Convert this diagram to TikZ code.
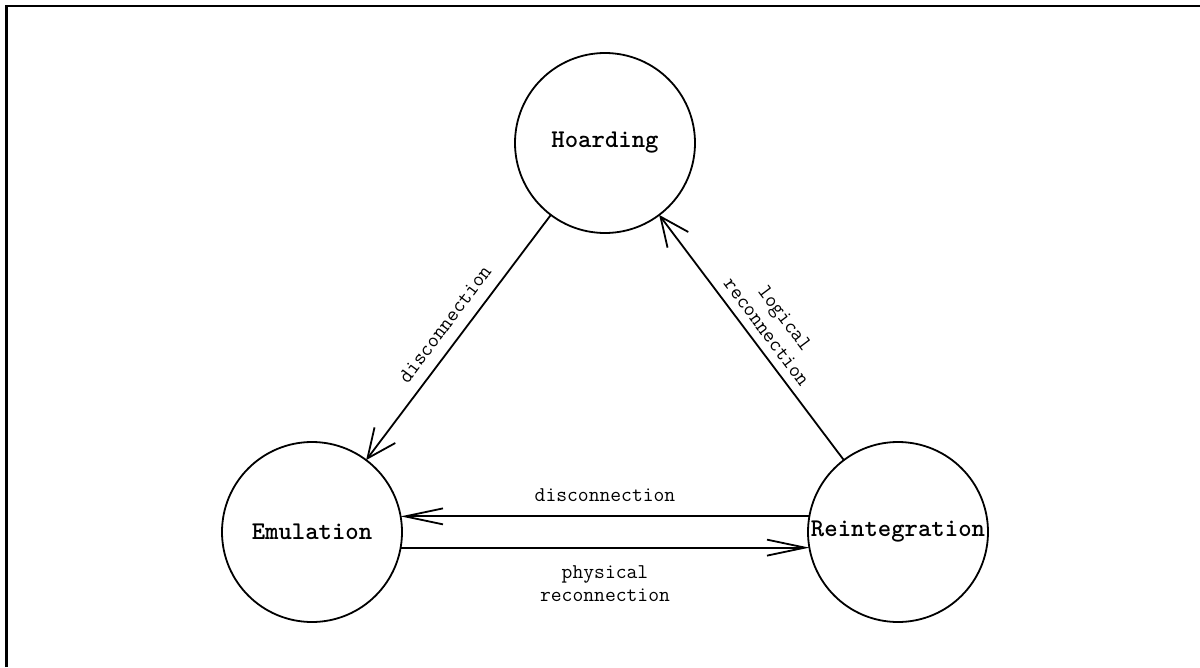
\documentclass[tikz,border=0pt]{standalone}
\usepackage{fontspec}
\usetikzlibrary{arrows.meta}
\begin{document}
\begin{tikzpicture}[x=1pt,y=-1pt,
  state/.style={circle,draw,line width=1.8pt,minimum size=180pt,inner sep=0pt,outer sep=0pt},
  statename/.style={font=\fontsize{25.5}{29}\selectfont\ttfamily\bfseries},
  lbl/.style={font=\fontsize{21}{23}\selectfont\ttfamily,align=center,inner sep=0pt},
  diag/.style={line width=1.8pt,-{Straight Barb[length=29pt,width=26pt]}},
  flat/.style={line width=1.8pt,-{Straight Barb[length=38pt,width=16pt]}},
]
\useasboundingbox (0,0) rectangle (1200,667);
% frame (top and left edges)
\draw[line width=2.5pt] (6.5,667) -- (6.5,6) -- (1200,6);

% states
\node[state, label={[statename]center:Hoarding}] (H) at (605,143) {};
\node[state, label={[statename]center:Emulation}] (E) at (312,532) {};
\node[state, label={[statename]center:Reintegration}] (R) at (898,532) {};

% transitions
\draw[diag] (H) -- (E);
\draw[diag] (R) -- (H);
\draw[flat] (R.170) -- (E.10);
\draw[flat] (E.-10) -- (R.190);

% transition labels
\node[lbl, rotate=53.2] (l1) at (445,324) {disconnection};
\node[lbl, rotate=-53.2] (l2) at (776,325) {logical\\reconnection};
\node[lbl] (l3) at (605,495) {disconnection};
\node[lbl] (l4) at (605,584) {physical\\reconnection};
\end{tikzpicture}
\end{document}
